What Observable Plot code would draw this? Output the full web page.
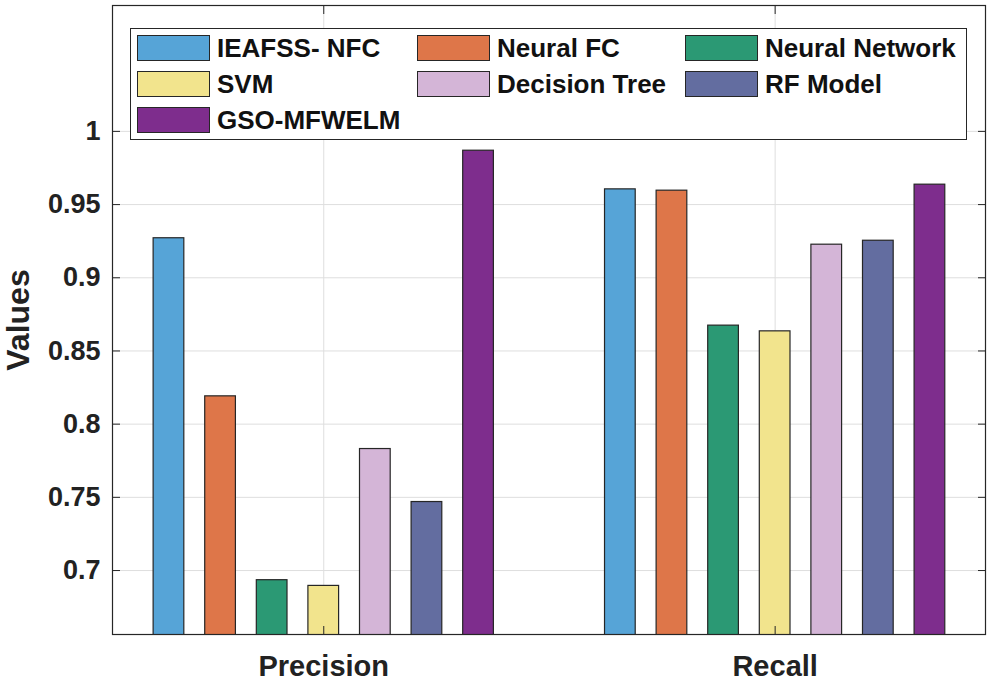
<!DOCTYPE html>
<html><head><meta charset="utf-8">
<script src="https://cdn.jsdelivr.net/npm/d3@7"></script>
<script src="https://cdn.jsdelivr.net/npm/@observablehq/plot@0.6"></script>
<style>
body{margin:0;background:#fff;}
#wrap{position:relative;width:991px;height:683px;font-family:"Liberation Sans",Arial,sans-serif;}
#legend{position:absolute;left:130px;top:28px;width:837px;height:112px;box-sizing:border-box;border:1.3px solid #262626;background:#fff;
  display:grid;grid-template-columns:280px 268px auto;grid-auto-rows:35.8px;padding:6px 0 0 6px;align-items:start;}
.item{display:flex;align-items:center;height:26px;}
.sw{width:73px;height:26px;box-sizing:border-box;border:1.3px solid #262626;margin-right:7px;flex:none;}
.lab{font-size:26px;font-weight:bold;color:#111;line-height:26px;white-space:nowrap;}
</style></head>
<body><div id="wrap"></div>
<script>
const metrics = ["Precision", "Recall"];
const models = ["IEAFSS- NFC", "Neural FC", "Neural Network", "SVM", "Decision Tree", "RF Model", "GSO-MFWELM"];
const colors = ["#56A4D7", "#DE7649", "#2B9974", "#F2E48D", "#D4B5D7", "#636DA0", "#7E2D8D"];
const precision = [0.927, 0.819, 0.6934, 0.6895, 0.783, 0.7468, 0.9868];
const recall = [0.9604, 0.9595, 0.8673, 0.8634, 0.9226, 0.9253, 0.9636];
const yTicks = [0.7, 0.75, 0.8, 0.85, 0.9, 0.95, 1];

const series = [precision, recall];
const table = [];
metrics.forEach((m, g) => models.forEach((mod, k) => table.push({metric: m, g: g + 1, k, model: mod, value: series[g][k]})));

const step = 0.1143, barW = 0.068;
const xs = d => d.g + (d.k - 3) * step;

const chart = Plot.plot({
  width: 991, height: 683,
  marginLeft: 112, marginRight: 6, marginTop: 5, marginBottom: 49,
  style: {fontFamily: "Liberation Sans, Arial, sans-serif", fontWeight: "bold", fontSize: "27px", color: "#222", background: "#fff"},
  x: {domain: [0.532, 2.466]},
  y: {domain: [0.6563, 1.086]},
  color: {domain: models, range: colors},
  marks: [
    Plot.gridY(yTicks, {stroke: "#dedede", strokeOpacity: 1}),
    Plot.gridX([1, 2], {stroke: "#dedede", strokeOpacity: 1}),
    Plot.rectY(table, {x1: d => xs(d) - barW / 2, x2: d => xs(d) + barW / 2, y1: 0, y2: "value", fill: "model", stroke: "#262626", strokeWidth: 1.2, clip: true}),
    Plot.frame({stroke: "#262626", strokeWidth: 1.2}),
    Plot.axisY(yTicks, {tickSize: -8, tickPadding: 20, tickFormat: d => String(d), label: null, fontSize: 27, stroke: "#262626"}),
    Plot.axisY(yTicks, {anchor: "right", tickSize: -8, tickFormat: () => "", label: null, stroke: "#262626"}),
    Plot.axisX([1, 2], {tickSize: -8, tickPadding: 29, tickFormat: d => metrics[d - 1], label: null, fontSize: 29, stroke: "#262626"}),
    Plot.axisX([1, 2], {anchor: "top", tickSize: -8, tickFormat: () => "", label: null, stroke: "#262626"}),
    Plot.text(["Values"], {frameAnchor: "left", textAnchor: "middle", lineAnchor: "middle", rotate: -90, dx: -94, fontSize: 32, fill: "#222"})
  ]
});
const wrap = document.getElementById("wrap");
wrap.appendChild(chart);

const leg = document.createElement("div");
leg.id = "legend";
models.forEach((m, i) => {
  const it = document.createElement("div");
  it.className = "item";
  it.innerHTML = `<div class="sw" style="background:${colors[i]}"></div><span class="lab">${m}</span>`;
  leg.appendChild(it);
});
wrap.appendChild(leg);
</script></body></html>
